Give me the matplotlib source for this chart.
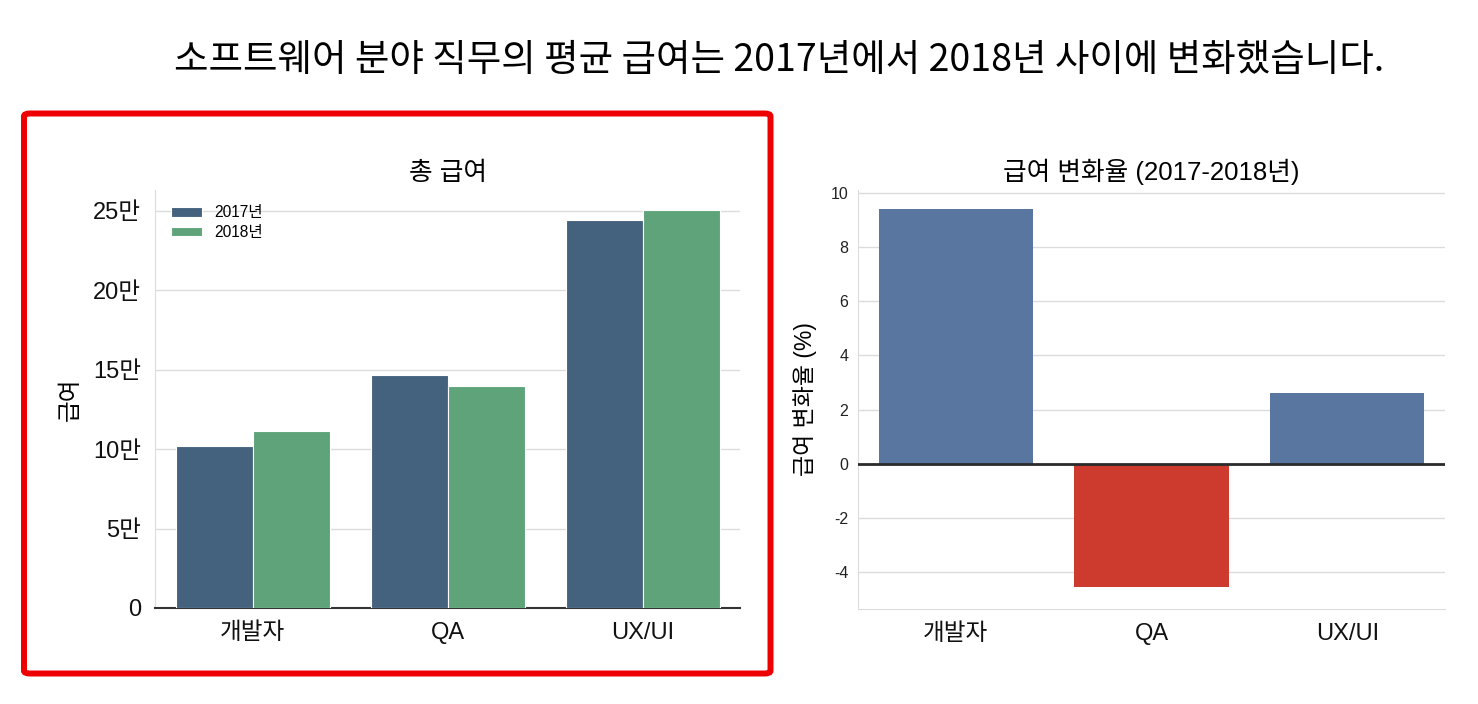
import matplotlib
matplotlib.use("Agg")
import matplotlib.pyplot as plt
import matplotlib.patches as mpatches
from matplotlib.ticker import FuncFormatter
import numpy as np

plt.rcParams['font.family'] = ['Liberation Sans', 'Noto Sans CJK KR', 'DejaVu Sans']
plt.rcParams['axes.unicode_minus'] = False

# data
jobs = ['개발자', 'QA', 'UX/UI']
years = ['2017년', '2018년']
salary_2017 = [101600, 146300, 243900]
salary_2018 = [111500, 139600, 250600]
change_pct = [9.4, -4.55, 2.6]

c2017 = '#44627d'
c2018 = '#5fa37a'
c_up = '#5876a0'
c_down = '#cc3b2e'
grid_c = '#dcdcdc'

fig = plt.figure(figsize=(14.78, 7.04), dpi=100)

fig.text(0.527, 0.914, '소프트웨어 분야 직무의 평균 급여는 2017년에서 2018년 사이에 변화했습니다.',
         ha='center', va='center', fontsize=27, family=['Noto Sans CJK KR', 'DejaVu Sans'])

# left: total salary
ax1 = fig.add_axes([0.1049, 0.1364, 0.3958, 0.5938])
x = np.arange(len(jobs))
w = 0.395
ax1.bar(x - w / 2, salary_2017, w, color=c2017, edgecolor='white', linewidth=0.8, label=years[0], zorder=3)
ax1.bar(x + w / 2, salary_2018, w, color=c2018, edgecolor='white', linewidth=0.8, label=years[1], zorder=3)
ax1.set_xlim(-0.5, 2.5)
ax1.set_ylim(0, 263000)
ax1.set_yticks([0, 50000, 100000, 150000, 200000, 250000])
ax1.yaxis.set_major_formatter(FuncFormatter(lambda v, p: '0' if v == 0 else f'{int(v / 10000)}만'))
ax1.set_xticks(x)
ax1.set_xticklabels(jobs)
ax1.tick_params(axis='both', length=0, labelsize=17, colors='#111111')
ax1.tick_params(axis='y', pad=10)
ax1.tick_params(axis='x', pad=10)
ax1.grid(axis='y', color=grid_c, linewidth=1, zorder=0)
for s in ['top', 'right']:
    ax1.spines[s].set_visible(False)
ax1.spines['left'].set_color(grid_c)
ax1.spines['bottom'].set_color('#333333')
ax1.spines['bottom'].set_linewidth(1.5)
ax1.set_ylabel('급여', fontsize=17, labelpad=8)
ax1.set_title('총 급여', fontsize=18.5, pad=7)
leg = ax1.legend(loc='upper left', frameon=False, fontsize=11.2, handlelength=2.0, handleheight=0.55,
                 labelspacing=0.3, handletextpad=0.8, borderaxespad=0.6, bbox_to_anchor=(0.0, 1.0))

# right: change rate
ax2 = fig.add_axes([0.5805, 0.135, 0.3972, 0.595])
cols = [c_up if v >= 0 else c_down for v in change_pct]
ax2.bar(x, change_pct, 0.79, color=cols, zorder=3)
ax2.axhline(0, color='#2a2a2a', linewidth=2, zorder=4)
ax2.set_xlim(-0.5, 2.5)
ax2.set_ylim(-5.35, 10.1)
ax2.set_yticks([-4, -2, 0, 2, 4, 6, 8, 10])
ax2.set_xticks(x)
ax2.set_xticklabels(jobs)
ax2.tick_params(axis='x', length=0, labelsize=17, colors='#111111', pad=10)
ax2.tick_params(axis='y', length=0, labelsize=11.5, colors='#222222', pad=7)
ax2.grid(axis='y', color=grid_c, linewidth=1, zorder=0)
for s in ['top', 'right']:
    ax2.spines[s].set_visible(False)
ax2.spines['left'].set_color(grid_c)
ax2.spines['bottom'].set_color(grid_c)
ax2.set_ylabel('급여 변화율 (%)', fontsize=16.5, labelpad=10)
ax2.set_title('급여 변화율 (2017-2018년)', fontsize=18.5, pad=7)

# red highlight box around the left chart
box = mpatches.FancyBboxPatch((24 / 1478, 1 - 673.5 / 704), (770.5 - 24) / 1478, (673.5 - 113.5) / 704,
                              boxstyle='round,pad=0,rounding_size=0.004', transform=fig.transFigure,
                              fill=False, edgecolor='#ee0000', linewidth=4.3)
fig.patches.append(box)

fig.savefig('out.png', dpi=100)
